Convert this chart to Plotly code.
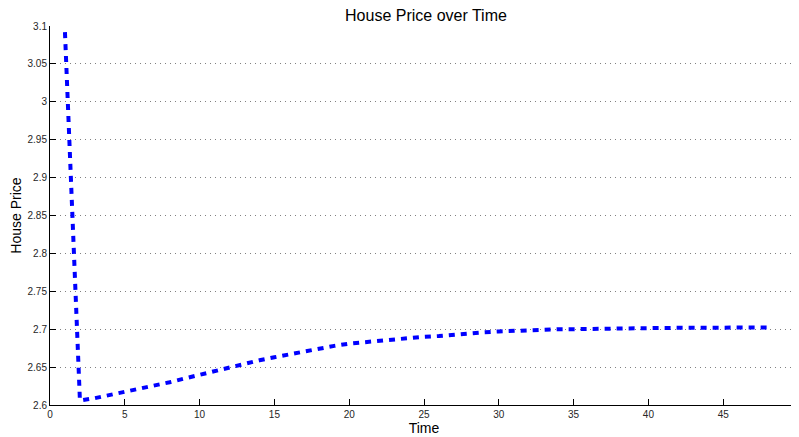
import plotly.graph_objects as go

time = list(range(1, 49))
price = [3.092, 2.606, 2.609, 2.613, 2.617, 2.621, 2.625, 2.630, 2.635, 2.640,
         2.645, 2.649, 2.654, 2.659, 2.663, 2.667, 2.671, 2.674, 2.678, 2.681,
         2.683, 2.685, 2.687, 2.689, 2.690, 2.691, 2.693, 2.694, 2.696, 2.697,
         2.698, 2.699, 2.6995, 2.700, 2.700, 2.7005, 2.701, 2.701, 2.7013, 2.7015,
         2.7017, 2.7018, 2.702, 2.702, 2.702, 2.7022, 2.7023, 2.7023]

x_ticks = [0, 5, 10, 15, 20, 25, 30, 35, 40, 45, 50]
y_ticks = [2.6, 2.65, 2.7, 2.75, 2.8, 2.85, 2.9, 2.95, 3.0, 3.05, 3.1]
y_labels = ["2.6", "2.65", "2.7", "2.75", "2.8", "2.85", "2.9", "2.95", "3", "3.05", "3.1"]

fig = go.Figure()
fig.add_trace(go.Scatter(
    x=time, y=price, mode="lines",
    line=dict(color="#0000ff", width=4, dash="6px,6px"),
    showlegend=False,
))

font = "Liberation Sans, Arial, sans-serif"
fig.update_layout(
    width=791, height=429,
    margin=dict(l=42, r=1, t=18, b=32),
    paper_bgcolor="white", plot_bgcolor="white",
    font=dict(family=font, color="#262626", size=10),
    title=dict(text="House Price over Time", x=0.5284, xanchor="center",
               y=0.9835, yanchor="middle", font=dict(size=16, color="#000000")),
    xaxis=dict(
        range=[0, 50], tickvals=x_ticks, ticktext=[str(v) for v in x_ticks],
        showgrid=False, zeroline=False, showline=True, linecolor="black", linewidth=1,
        ticks="inside", ticklen=6, tickcolor="black", automargin=False,
        ticklabeloverflow="allow",
        title=dict(text="Time", font=dict(size=14, color="#000000"), standoff=2),
    ),
    yaxis=dict(
        range=[2.6, 3.1], tickvals=y_ticks, ticktext=y_labels,
        showgrid=True, gridcolor="#808080", griddash="1px,4px", gridwidth=1,
        zeroline=False, showline=True, linecolor="black", linewidth=1,
        ticks="inside", ticklen=6, tickcolor="black", automargin=False,
        title=dict(text="House Price", font=dict(size=14, color="#000000"), standoff=6),
    ),
)

fig.write_html("out.html")
